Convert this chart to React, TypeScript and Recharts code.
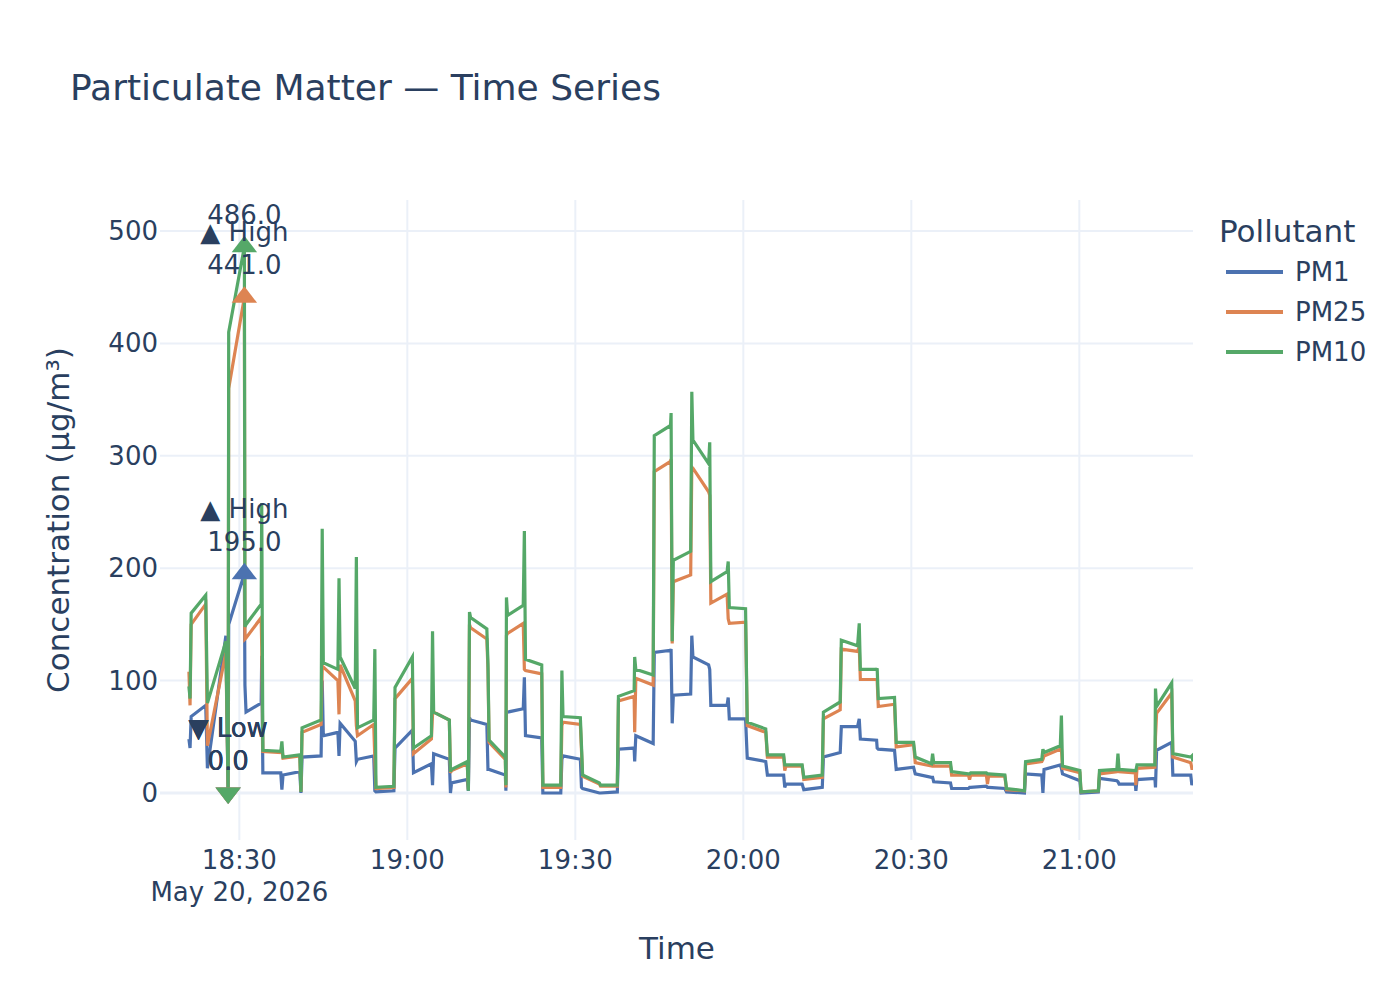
import React from "react";
import {
  LineChart,
  Line,
  XAxis,
  YAxis,
  CartesianGrid,
  ReferenceDot,
  ReferenceLine,
  Legend,
} from "recharts";

// readings, May 20 2026 (clock time)
const times = [
  "18:21:00", "18:21:12", "18:21:24", "18:24:00", "18:24:18", "18:27:36", "18:28:00", "18:28:06",
  "18:30:54", "18:31:00", "18:31:12", "18:33:54", "18:34:00", "18:34:12", "18:37:24", "18:37:36",
  "18:37:48", "18:40:48", "18:41:00", "18:41:12", "18:44:36", "18:44:48", "18:45:00", "18:47:36",
  "18:47:48", "18:48:00", "18:50:42", "18:50:54", "18:51:06", "18:54:00", "18:54:12", "18:54:24",
  "18:57:36", "18:57:48", "19:00:54", "19:01:06", "19:04:18", "19:04:30", "19:04:42", "19:07:30",
  "19:07:42", "19:07:54", "19:10:42", "19:10:54", "19:11:06", "19:11:18", "19:14:12", "19:14:24",
  "19:14:36", "19:17:30", "19:17:36", "19:17:42", "19:17:54", "19:20:42", "19:20:54", "19:21:06",
  "19:24:00", "19:24:12", "19:27:24", "19:27:36", "19:27:48", "19:30:54", "19:31:06", "19:31:18",
  "19:34:18", "19:34:30", "19:37:30", "19:37:42", "19:40:30", "19:40:36", "19:40:48", "19:43:54",
  "19:44:06", "19:47:00", "19:47:06", "19:47:18", "19:47:30", "19:50:36", "19:50:48", "19:51:00",
  "19:53:48", "19:54:00", "19:54:12", "19:57:06", "19:57:18", "19:57:30", "20:00:24", "20:00:42",
  "20:04:00", "20:04:18", "20:07:12", "20:07:24", "20:07:36", "20:10:30", "20:10:48", "20:14:06",
  "20:14:18", "20:17:18", "20:17:30", "20:20:24", "20:20:42", "20:20:54", "20:23:48", "20:23:54",
  "20:24:06", "20:27:00", "20:27:18", "20:30:24", "20:30:42", "20:33:36", "20:33:48", "20:34:00",
  "20:37:00", "20:37:12", "20:40:12", "20:40:24", "20:40:36", "20:43:24", "20:43:36", "20:43:48",
  "20:46:42", "20:47:00", "20:50:12", "20:50:24", "20:53:18", "20:53:30", "20:53:42", "20:56:36",
  "20:56:48", "20:57:00", "21:00:06", "21:00:18", "21:03:24", "21:03:36", "21:06:42", "21:06:54",
  "21:07:06", "21:10:00", "21:10:06", "21:10:18", "21:13:30", "21:13:36", "21:13:48", "21:16:30",
  "21:16:42", "21:19:54", "21:20:06", "21:20:18",
];

const pm1 = [
  48, 40, 68, 78, 22, 140, 0, 150, 195, 96, 72, 80, 122, 18, 18, 3,
  16, 19, 0, 32, 33, 100, 51, 54, 33, 62, 46, 28, 30, 33, 2, 1,
  2, 40, 56, 18, 26, 7, 35, 30, 0, 9, 12, 2, 67, 65, 61, 21,
  21, 16, 2, 72, 72, 75, 103, 51, 49, 0, 0, 30, 33, 30, 5, 4,
  0, 0, 1, 39, 40, 28, 51, 44, 125, 127, 128, 62, 87, 88, 140, 121,
  114, 110, 78, 78, 85, 66, 66, 31, 28, 16, 16, 5, 8, 8, 3, 5,
  32, 36, 59, 59, 66, 48, 47, 40, 39, 38, 21, 23, 17, 14, 14, 10,
  9, 4, 4, 5, 5, 6, 5, 5, 4, 1, 0, 17, 16, 0, 21, 25,
  22, 17, 11, 0, 1, 13, 11, 10, 8, 8, 2, 12, 13, 5, 38, 45,
  16, 16, 7, 10,
];

const pm25 = [
  108, 78, 150, 168, 42, 125, 0, 360, 441, 137, 138, 156, 130, 37, 36, 40,
  31, 33, 1, 54, 61, 110, 112, 100, 70, 114, 82, 60, 51, 61, 30, 4,
  5, 84, 102, 35, 48, 70, 72, 65, 18, 20, 26, 3, 150, 147, 137, 110,
  45, 30, 5, 140, 142, 151, 110, 109, 106, 5, 5, 60, 63, 61, 38, 15,
  8, 6, 6, 82, 86, 54, 102, 96, 286, 295, 297, 133, 188, 194, 290, 289,
  268, 265, 169, 177, 155, 151, 152, 60, 54, 32, 32, 20, 24, 24, 12, 14,
  66, 74, 128, 126, 130, 101, 101, 100, 77, 79, 41, 43, 27, 24, 26, 24,
  24, 16, 16, 12, 16, 16, 8, 15, 15, 3, 2, 26, 28, 30, 33, 39,
  40, 22, 18, 1, 2, 17, 19, 20, 19, 18, 7, 22, 23, 50, 71, 89,
  32, 27, 22, 22,
];

const pm10 = [
  95, 84, 160, 176, 80, 135, 0, 410, 486, 148, 150, 168, 258, 38, 37, 46,
  32, 34, 1, 58, 65, 235, 116, 110, 191, 121, 93, 210, 58, 65, 128, 5,
  6, 94, 121, 40, 51, 144, 72, 65, 19, 21, 28, 2, 161, 156, 146, 115,
  47, 32, 7, 174, 158, 167, 233, 119, 114, 7, 7, 109, 68, 67, 42, 16,
  9, 7, 7, 86, 91, 121, 110, 105, 318, 327, 338, 135, 207, 215, 357, 314,
  293, 312, 188, 197, 206, 165, 164, 63, 57, 34, 34, 25, 25, 25, 14, 16,
  72, 81, 136, 131, 151, 110, 110, 111, 84, 85, 45, 45, 32, 26, 35, 27,
  27, 19, 17, 17, 18, 18, 17, 17, 16, 4, 2, 28, 30, 39, 36, 42,
  69, 24, 20, 1, 2, 20, 21, 35, 21, 20, 20, 25, 25, 93, 77, 98,
  35, 32, 33, 28,
];

const seriesNames = ["PM1", "PM25", "PM10"];
const seriesValues = [pm1, pm25, pm10];
const seriesColors = ["#4c72b0", "#dd8452", "#55a868"];

const xRange = ["18:15:50", "21:20:18"];
const xTickTimes = ["18:30:00", "19:00:00", "19:30:00", "20:00:00", "20:30:00", "21:00:00"];
const yTicks = [0, 100, 200, 300, 400, 500];
const yRange = [-41.8, 527.6];
const dateLabel = "May 20, 2026";

const INK = "#2a3f5f";
const GRID = "#ebf0f8";
const FONT = "'DejaVu Sans', Verdana, sans-serif";
const PLOT_TOP = 200;

const toMs = (t: string) => {
  const [h, m, s] = t.split(":").map(Number);
  return Date.UTC(2026, 4, 20, h, m, s);
};

const hhmm = (ms: number) => {
  const d = new Date(ms);
  const p = (n: number) => String(n).padStart(2, "0");
  return `${p(d.getUTCHours())}:${p(d.getUTCMinutes())}`;
};

const data = times.map((t, i) => ({
  time: toMs(t),
  PM1: pm1[i],
  PM25: pm25[i],
  PM10: pm10[i],
}));

const xTicks = xTickTimes.map(toMs);

const extremes = seriesNames.map((name, i) => {
  const vals = seriesValues[i];
  const hi = Math.max(...vals);
  const lo = Math.min(...vals);
  return {
    name,
    color: seriesColors[i],
    hi: { time: data[vals.indexOf(hi)].time, value: hi },
    lo: { time: data[vals.indexOf(lo)].time, value: lo },
  };
});

const TimeTick = (props: any) => {
  const { x, y, payload, index } = props;
  return (
    <g>
      <text x={x} y={y + 20} textAnchor="middle" dominantBaseline="central" fill={INK} fontSize={26} fontFamily={FONT}>
        {hhmm(payload.value)}
      </text>
      {index === 0 && (
        <text x={x} y={y + 52} textAnchor="middle" dominantBaseline="central" fill={INK} fontSize={26} fontFamily={FONT}>
          {dateLabel}
        </text>
      )}
    </g>
  );
};

const ValueTick = (props: any) => {
  const { x, y, payload } = props;
  return (
    <text x={x} y={y} textAnchor="end" dominantBaseline="central" fill={INK} fontSize={26} fontFamily={FONT}>
      {payload.value}
    </text>
  );
};

const triangle = (up: boolean, color: string) => (p: any) => {
  const { cx, cy } = p;
  const r = 11;
  const rt = r * 1.155;
  const d = up
    ? `M${cx - rt},${cy + r / 2}H${cx + rt}L${cx},${cy - r}Z`
    : `M${cx - rt},${cy - r / 2}H${cx + rt}L${cx},${cy + r}Z`;
  return <path d={d} fill={color} />;
};

// two-line note above a point; the top line is dropped when it would sit above the plot
const annotation = (label: string, value: number) => (p: any) => {
  const { cx, cy } = p;
  const top = cy - 65;
  return (
    <g fontFamily={FONT} fontSize={26} fill={INK} textAnchor="middle">
      {top - 13 >= PLOT_TOP && (
        <text x={cx} y={top} dominantBaseline="central">
          {label}
        </text>
      )}
      <text x={cx} y={cy - 32} dominantBaseline="central">
        {value.toFixed(1)}
      </text>
    </g>
  );
};

const PollutantLegend = () => (
  <svg width={190} height={170} style={{ display: "block" }}>
    <text x={9} y={31} dominantBaseline="central" fill={INK} fontSize={31} fontFamily={FONT}>
      Pollutant
    </text>
    {seriesNames.map((name, i) => (
      <g key={name}>
        <line x1={16} x2={73} y1={72 + 40 * i} y2={72 + 40 * i} stroke={seriesColors[i]} strokeWidth={4} />
        <text x={85} y={72 + 40 * i} dominantBaseline="central" fill={INK} fontSize={26} fontFamily={FONT}>
          {name}
        </text>
      </g>
    ))}
  </svg>
);

export default function App() {
  return (
    <div style={{ position: "absolute", left: 0, top: 0, width: 1400, height: 1000, background: "#fff" }}>
      <div
        style={{
          position: "absolute",
          left: 70,
          top: 70,
          fontFamily: FONT,
          fontSize: 36,
          lineHeight: "36px",
          color: INK,
          whiteSpace: "nowrap",
        }}
      >
        Particulate Matter — Time Series
      </div>
      <LineChart
        width={1400}
        height={1000}
        data={data}
        margin={{ top: 200, right: 207, bottom: 100, left: 100 }}
      >
        <CartesianGrid
          stroke={GRID}
          strokeWidth={2}
          syncWithTicks
          horizontalValues={yTicks}
          verticalValues={xTicks}
        />
        <XAxis
          dataKey="time"
          type="number"
          domain={xRange.map(toMs)}
          ticks={xTicks}
          allowDataOverflow
          height={60}
          axisLine={false}
          tickLine={false}
          tickSize={0}
          tickMargin={0}
          tick={<TimeTick />}
          label={() => (
            <text x={677} y={948} textAnchor="middle" dominantBaseline="central" fill={INK} fontSize={31} fontFamily={FONT}>
              Time
            </text>
          )}
        />
        <YAxis
          type="number"
          domain={yRange}
          ticks={yTicks}
          allowDataOverflow
          width={60}
          axisLine={false}
          tickLine={false}
          tickSize={0}
          tickMargin={2}
          tick={<ValueTick />}
          label={() => (
            <text
              x={58}
              y={520}
              transform="rotate(-90 58 520)"
              textAnchor="middle"
              dominantBaseline="central"
              fill={INK}
              fontSize={31}
              fontFamily={FONT}
            >
              Concentration (µg/m³)
            </text>
          )}
        />
        <ReferenceLine y={0} stroke={GRID} strokeWidth={3} />
        <Legend
          layout="vertical"
          align="center"
          verticalAlign="middle"
          wrapperStyle={{ left: 1210, top: 200, width: 190 }}
          content={<PollutantLegend />}
        />
        {seriesNames.map((name, i) => (
          <Line
            key={name}
            dataKey={name}
            name={name}
            type="linear"
            stroke={seriesColors[i]}
            strokeWidth={3.2}
            dot={false}
            activeDot={false}
            isAnimationActive={false}
          />
        ))}
        {extremes.map((e) => (
          <ReferenceDot key={e.name + "hi"} x={e.hi.time} y={e.hi.value} ifOverflow="visible" shape={triangle(true, e.color)} />
        ))}
        {extremes.map((e) => (
          <ReferenceDot key={e.name + "lo"} x={e.lo.time} y={e.lo.value} ifOverflow="visible" shape={triangle(false, e.color)} />
        ))}
        {extremes.map((e) => (
          <ReferenceDot key={e.name + "hiA"} x={e.hi.time} y={e.hi.value} ifOverflow="visible" shape={annotation("▲ High", e.hi.value)} />
        ))}
        {extremes.map((e) => (
          <ReferenceDot key={e.name + "loA"} x={e.lo.time} y={e.lo.value} ifOverflow="visible" shape={annotation("▼ Low", e.lo.value)} />
        ))}
      </LineChart>
    </div>
  );
}
